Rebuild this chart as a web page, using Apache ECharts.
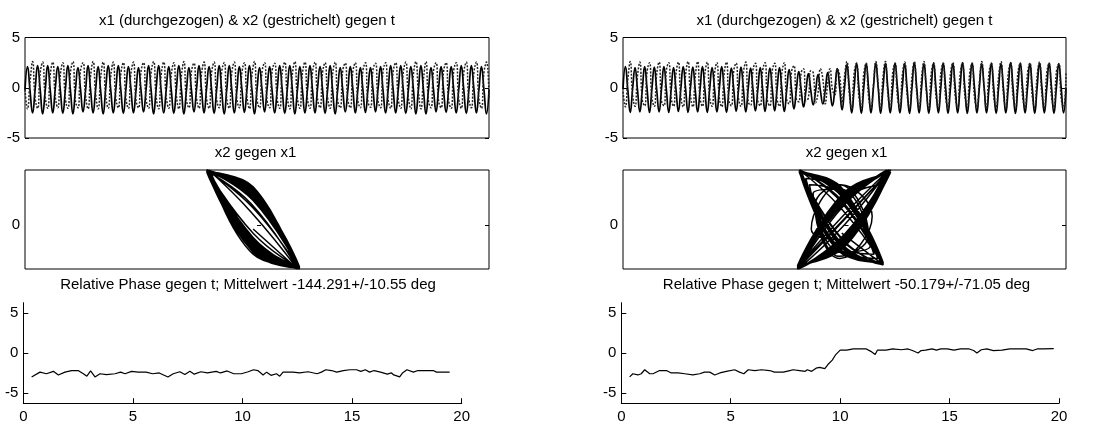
<!DOCTYPE html>
<html><head><meta charset="utf-8">
<script src="https://cdn.jsdelivr.net/npm/echarts@6/dist/echarts.min.js"></script>
<style>html,body{margin:0;padding:0;background:#fff}#c{width:1106px;height:430px}</style>
</head><body><div id="c"></div>
<script>
// ---------- text ----------
const titleTop = 'x1 (durchgezogen) & x2 (gestrichelt) gegen t';
const titlePortrait = 'x2 gegen x1';
const titlePhaseLeft = 'Relative Phase gegen t; Mittelwert -144.291+/-10.55 deg';
const titlePhaseRight = 'Relative Phase gegen t; Mittelwert -50.179+/-71.05 deg';
const yTicksTop = [-5, 0, 5];
const yTicksPortrait = [0];
const yTicksPhase = [-5, 0, 5];
const xTicksPhase = [0, 5, 10, 15, 20];
const timeSpan = [0, 20];

// ---------- left column: x1, x2 sampled every quarter cycle ----------
const x1Left = [
 -0.2,2.1,-0.3,-2.5, -0.2,2.2,-0.1,-2.6, -0.3,2.2,-0.2,-2.5, -0.1,2.1,-0.2,-2.55, -0.2,2.2,-0.2,-2.6,
 -0.2,2.0,-0.1,-2.4, -0.3,2.2,-0.2,-2.5, -0.2,2.1,-0.3,-2.6, -0.1,2.2,-0.2,-2.5, -0.2,2.2,-0.2,-2.55,
 -0.2,2.1,-0.1,-2.5, -0.3,2.0,-0.2,-2.4, -0.2,2.2,-0.2,-2.6, -0.1,2.2,-0.3,-2.5, -0.2,2.1,-0.2,-2.55,
 -0.2,2.2,-0.1,-2.6, -0.3,2.0,-0.2,-2.4, -0.2,2.2,-0.2,-2.5, -0.1,2.1,-0.2,-2.55, -0.2,2.2,-0.3,-2.6,
 -0.2,2.2,-0.2,-2.5, -0.3,2.1,-0.1,-2.45, -0.2,2.2,-0.2,-2.6, -0.2,2.0,-0.2,-2.4, -0.1,2.1,-0.3,-2.5,
 -0.2,2.2,-0.2,-2.55, -0.2,2.2,-0.1,-2.6, -0.3,2.1,-0.2,-2.5, -0.2,2.2,-0.2,-2.5, -0.1,2.1,-0.2,-2.55,
 -0.2,2.2,-0.3,-2.6, -0.2,2.0,-0.2,-2.4, -0.3,2.1,-0.1,-2.5, -0.2,2.0,-0.2,-2.45, -0.2,2.0,-0.2,-2.4,
 -0.1,2.1,-0.3,-2.5, -0.2,2.2,-0.2,-2.5, -0.2,2.2,-0.2,-2.55, -0.3,2.1,-0.1,-2.6, -0.2,2.2,-0.2,-2.6,
 -0.2,2.0,-0.2,-2.4, -0.1,2.1,-0.3,-2.45, -0.2,2.1,-0.2,-2.5, -0.2,2.2,-0.2,-2.55, -0.3,2.2,-0.1,-2.5,
 -0.2,2.1,-0.2,-2.6, -0.2
];
const x2Left = [
 -0.2,-2.1,0.6,2.6, -1.0,-2.05,1.4,2.55, -0.9,-2.05,1.3,2.55, -0.9,-2.0,1.3,2.5, -1.1,-2.05,1.5,2.6,
 -1.3,-2.0,1.7,2.5, -0.75,-2.1,1.15,2.6, -0.6,-2.1,1.0,2.55, -0.75,-2.05,1.15,2.55, -1.0,-2.0,1.4,2.5,
 -1.0,-2.05,1.4,2.55, -1.2,-2.0,1.6,2.5, -1.1,-2.05,1.5,2.6, -0.9,-2.1,1.3,2.55, -0.9,-2.05,1.3,2.5,
 -0.75,-2.1,1.15,2.6, -1.2,-2.0,1.6,2.45, -1.0,-2.05,1.4,2.55, -1.1,-2.05,1.5,2.55, -1.2,-2.0,1.6,2.5,
 -1.1,-2.05,1.5,2.55, -1.1,-2.0,1.5,2.5, -0.9,-2.1,1.3,2.6, -1.2,-2.0,1.6,2.5, -1.3,-2.0,1.7,2.45,
 -1.1,-2.05,1.5,2.55, -0.9,-2.1,1.3,2.6, -1.0,-2.05,1.4,2.55, -1.1,-2.05,1.5,2.55, -1.1,-2.0,1.5,2.5,
 -1.0,-2.05,1.4,2.55, -1.3,-2.0,1.7,2.45, -1.2,-2.0,1.6,2.5, -1.3,-2.0,1.7,2.5, -1.4,-1.95,1.8,2.45,
 -1.3,-2.0,1.7,2.5, -1.2,-2.05,1.6,2.5, -1.1,-2.05,1.5,2.55, -0.9,-2.1,1.3,2.6, -0.4,-2.1,0.8,2.6,
 -1.3,-2.0,1.7,2.5, -1.3,-2.0,1.65,2.5, -1.3,-2.05,1.7,2.5, -1.1,-2.05,1.5,2.55, -1.1,-2.0,1.5,2.55,
 -1.1,-2.05,1.5,2.55, -1.1
];

// ---------- right column ----------
const x1Right = [
 -0.15,2.1,-0.2,-2.45, -0.1,2.0,-0.15,-2.4, -0.2,2.1,-0.1,-2.45, -0.15,2.05,-0.2,-2.4, -0.1,2.1,-0.15,-2.45,
 -0.2,2.0,-0.15,-2.35, -0.15,2.1,-0.1,-2.45, -0.1,2.05,-0.2,-2.4, -0.2,2.1,-0.15,-2.45, -0.15,2.0,-0.1,-2.4,
 -0.1,2.1,-0.2,-2.45, -0.2,1.95,-0.15,-2.35, -0.15,2.05,-0.1,-2.4, -0.1,1.95,-0.2,-2.3, -0.2,2.0,-0.15,-2.35,
 -0.15,1.95,-0.1,-2.3, -0.1,2.0,-0.2,-2.35, -0.2,1.8,-0.15,-2.1, -0.2,1.6,-0.2,-1.9, -0.25,1.4,-0.25,-1.7,
 -0.3,1.3,-0.3,-1.6, -0.25,1.5,-0.2,-1.8, -0.1,1.9,-0.05,-2.2, 0.0,2.3,0.0,-2.5, -0.05,2.45,-0.05,-2.55,
 0.0,2.4,0.0,-2.5, -0.05,2.45,0.0,-2.55, 0.0,2.4,-0.05,-2.5, -0.05,2.45,0.0,-2.5, 0.0,2.4,-0.05,-2.55,
 -0.05,2.5,0.0,-2.5, 0.0,2.4,0.0,-2.55, -0.05,2.45,-0.05,-2.5, 0.0,2.45,0.0,-2.55, -0.05,2.4,0.0,-2.5,
 0.0,2.5,-0.05,-2.55, -0.05,2.45,0.0,-2.5, 0.0,2.4,0.0,-2.5, -0.05,2.45,-0.05,-2.55, 0.0,2.4,0.0,-2.5,
 -0.05,2.5,0.0,-2.55, 0.0,2.45,-0.05,-2.5, -0.05,2.4,0.0,-2.55, 0.0,2.45,0.0,-2.5, -0.05,2.45,-0.05,-2.55,
 0.0,2.4,0.0,-2.5, 0.0
];
const x2Right = [
 -0.4,-1.9,0.8,2.6, -0.75,-1.85,1.15,2.55, -1.2,-1.8,1.6,2.5, -1.0,-1.85,1.4,2.55, -1.3,-1.8,1.7,2.5,
 -1.0,-1.85,1.4,2.55, -0.9,-1.9,1.3,2.6, -0.7,-1.9,1.1,2.6, -1.0,-1.85,1.4,2.55, -1.0,-1.85,1.4,2.5,
 -1.0,-1.9,1.4,2.55, -1.3,-1.8,1.7,2.45, -1.1,-1.85,1.5,2.55, -1.4,-1.75,1.8,2.45, -1.3,-1.8,1.7,2.5,
 -1.3,-1.8,1.7,2.45, -1.1,-1.85,1.5,2.5, -1.2,-1.6,1.6,2.2, -1.1,-1.4,1.5,1.9, -1.3,-1.0,1.7,1.5,
 -1.5,-0.5,1.9,0.9, -1.6,0.4,1.9,-0.2, -0.7,1.9,1.2,-1.5, 1.1,2.6,-0.6,-2.1, 1.45,2.45,-0.95,-1.95,
 1.4,2.45,-0.9,-1.95, 0.25,2.6,0.25,-2.1, 1.1,2.6,-0.6,-2.1, 1.45,2.45,-0.95,-1.95, 1.2,2.55,-0.7,-2.05,
 1.0,2.6,-0.5,-2.1, 0.95,2.6,-0.45,-2.1, 1.35,2.5,-0.85,-2.0, 1.45,2.45,-0.95,-1.95, 1.35,2.5,-0.85,-2.0,
 1.3,2.5,-0.8,-2.0, 1.45,2.45,-0.95,-1.95, 0.5,2.6,0.0,-2.1, 1.45,2.45,-0.95,-1.95, 1.1,2.6,-0.6,-2.1,
 1.35,2.5,-0.85,-2.0, 1.45,2.45,-0.95,-1.95, 1.4,2.45,-0.9,-1.95, 1.2,2.55,-0.7,-2.05, 1.45,2.45,-0.95,-1.95,
 1.55,2.4,-1.05,-1.9, 1.55
];

// ---------- relative phase (rad) ----------
const phaseTLeft = [0.38,0.76,1.06,1.37,1.6,1.9,2.2,2.5,2.74,2.9,3.07,3.27,3.5,3.8,4.18,4.44,4.64,4.94,5.24,5.6,5.9,6.2,6.6,6.84,7.14,7.37,7.6,7.8,8.1,8.4,8.8,9.0,9.3,9.6,9.95,10.26,10.5,10.7,10.94,11.1,11.3,11.55,11.7,11.85,12.3,12.6,13.0,13.4,13.6,13.8,14.06,14.3,14.6,14.9,15.2,15.4,15.6,15.8,16.0,16.3,16.6,16.8,16.9,17.17,17.3,17.5,17.8,18.0,18.4,18.7,18.85,19.45];
const phaseLeft  = [-3.0,-2.4,-2.6,-2.3,-2.75,-2.4,-2.2,-2.2,-2.6,-2.9,-2.25,-3.0,-2.6,-2.7,-2.6,-2.4,-2.6,-2.3,-2.4,-2.4,-2.6,-2.5,-3.0,-2.6,-2.35,-2.7,-2.3,-2.65,-2.35,-2.5,-2.3,-2.5,-2.25,-2.6,-2.6,-2.35,-2.1,-2.2,-2.75,-2.4,-2.8,-2.6,-2.9,-2.4,-2.4,-2.5,-2.35,-2.6,-2.4,-2.1,-2.2,-2.4,-2.2,-2.1,-2.1,-2.3,-2.1,-2.4,-2.2,-2.4,-2.65,-2.5,-2.75,-3.0,-2.5,-2.1,-2.4,-2.2,-2.2,-2.2,-2.4,-2.4];
const phaseTRight = [0.38,0.53,0.76,0.91,1.07,1.3,1.45,1.75,2.06,2.28,2.6,2.9,3.27,3.58,3.8,4.04,4.27,4.5,4.8,5.18,5.4,5.6,5.8,6.1,6.4,6.78,7.0,7.4,7.7,7.85,8.15,8.4,8.5,8.7,8.9,9.06,9.3,9.44,9.64,9.8,10.0,10.3,10.6,11.2,11.4,11.6,11.7,12.1,12.4,12.8,13.1,13.3,13.56,13.7,13.9,14.2,14.4,14.6,14.9,15.2,15.5,15.9,16.1,16.25,16.45,16.7,17.0,17.4,17.75,18.1,18.5,18.8,19.0,19.3,19.76];
const phaseRight  = [-3.0,-2.6,-2.75,-2.6,-2.1,-2.6,-2.6,-2.2,-2.2,-2.5,-2.5,-2.6,-2.75,-2.6,-2.4,-2.4,-2.75,-2.5,-2.3,-2.1,-2.4,-2.6,-2.1,-2.2,-2.1,-2.2,-2.4,-2.4,-2.2,-2.1,-2.2,-2.3,-2.1,-2.3,-1.9,-1.8,-1.95,-1.45,-0.9,-0.2,0.35,0.35,0.5,0.5,0.2,-0.2,0.35,0.35,0.5,0.4,0.5,0.3,0.0,0.3,0.35,0.5,0.35,0.5,0.5,0.35,0.5,0.5,0.3,0.0,0.4,0.5,0.3,0.35,0.5,0.5,0.5,0.3,0.5,0.5,0.55];

// ---------- build ----------
const FONT = '"Liberation Sans", Arial, Helvetica, sans-serif';
const black = '#000';
function timeOf(arr) {
  const n = arr.length - 1;
  return arr.map((v, i) => [timeSpan[0] + (timeSpan[1] - timeSpan[0]) * i / n, v]);
}
function pairs(a, b) { return a.map((v, i) => [v, b[i]]); }
function zip(t, v) { return t.map((x, i) => [x, v[i]]); }

const cols = [
  {boxL: 25, boxW: 464, phL: 23.3, phW: 438.4, tTop: 247, tPor: 255.5, tPh: 248,
   x1: x1Left, x2: x2Left, pt: phaseTLeft, pv: phaseLeft, phTitle: titlePhaseLeft},
  {boxL: 623, boxW: 443, phL: 621.3, phW: 437.7, tTop: 844.5, tPor: 846.5, tPh: 846.5,
   x1: x1Right, x2: x2Right, pt: phaseTRight, pv: phaseRight, phTitle: titlePhaseRight}
];
const grid = [], xAxis = [], yAxis = [], series = [], graphic = [];
const tickStyle = {show: true, inside: true, length: 4, lineStyle: {color: black, width: 1}};
const labelStyle = {color: black, fontSize: 15, fontFamily: FONT, margin: 5};

cols.forEach(c => {
  // panel 1: time series
  let g = grid.length;
  grid.push({left: c.boxL, top: 37.5, width: c.boxW, height: 100.5, show: true, borderColor: black, borderWidth: 1, backgroundColor: '#fff'});
  xAxis.push({gridIndex: g, type: 'value', min: timeSpan[0], max: timeSpan[1], show: false});
  let y0 = yAxis.length;
  yAxis.push({gridIndex: g, type: 'value', min: yTicksTop[0], max: yTicksTop[2], interval: 5,
    axisLine: {show: false}, axisTick: tickStyle, splitLine: {show: false}, axisLabel: labelStyle});
  yAxis.push({gridIndex: g, type: 'value', position: 'right', min: yTicksTop[0], max: yTicksTop[2], interval: 5,
    axisLine: {show: false}, axisTick: tickStyle, splitLine: {show: false}, axisLabel: {show: false}});
  series.push({type: 'line', xAxisIndex: g, yAxisIndex: y0, data: timeOf(c.x1), smooth: 0.5, symbol: 'none',
    lineStyle: {color: black, width: 1.7}, silent: true});
  series.push({type: 'line', xAxisIndex: g, yAxisIndex: y0, data: timeOf(c.x2), smooth: 0.5, symbol: 'none',
    lineStyle: {color: '#222', width: 1.5, type: [2, 1.5]}, silent: true});

  // panel 2: portrait
  g = grid.length;
  grid.push({left: c.boxL, top: 170, width: c.boxW, height: 99, show: true, borderColor: black, borderWidth: 1, backgroundColor: '#fff'});
  xAxis.push({gridIndex: g, type: 'value', min: -12, max: 12, show: false});
  y0 = yAxis.length;
  yAxis.push({gridIndex: g, type: 'value', min: -2.1, max: 2.6,
    axisLine: {show: false}, axisTick: Object.assign({customValues: yTicksPortrait}, tickStyle),
    splitLine: {show: false}, axisLabel: Object.assign({customValues: yTicksPortrait}, labelStyle)});
  yAxis.push({gridIndex: g, type: 'value', position: 'right', min: -2.1, max: 2.6,
    axisLine: {show: false}, axisTick: Object.assign({customValues: yTicksPortrait}, tickStyle),
    splitLine: {show: false}, axisLabel: {show: false}});
  series.push({type: 'line', xAxisIndex: g, yAxisIndex: y0, data: pairs(c.x1, c.x2), smooth: 0.45, symbol: 'none',
    lineStyle: {color: black, width: 1.5}, silent: true});

  // panel 3: relative phase
  g = grid.length;
  grid.push({left: c.phL, top: 302.7, width: c.phW, height: 100.5, show: false});
  xAxis.push({gridIndex: g, type: 'value', min: xTicksPhase[0], max: xTicksPhase[4], interval: 5,
    axisLine: {show: true, onZero: false, lineStyle: {color: black, width: 1}},
    axisTick: Object.assign({}, tickStyle, {length: 5}), splitLine: {show: false},
    axisLabel: Object.assign({}, labelStyle, {margin: 6, showMinLabel: true, showMaxLabel: true})});
  y0 = yAxis.length;
  yAxis.push({gridIndex: g, type: 'value', min: -2 * Math.PI, max: 2 * Math.PI,
    axisLine: {show: true, onZero: false, lineStyle: {color: black, width: 1}},
    axisTick: Object.assign({customValues: yTicksPhase}, tickStyle, {length: 5}),
    splitLine: {show: false}, axisLabel: Object.assign({customValues: yTicksPhase}, labelStyle)});
  series.push({type: 'line', xAxisIndex: g, yAxisIndex: y0, data: zip(c.pt, c.pv), symbol: 'none',
    lineStyle: {color: black, width: 1.2}, silent: true});

  // titles
  const ts = (txt, x, y) => ({type: 'text', silent: true, style: {text: txt, x: x, y: y, textAlign: 'center',
    textVerticalAlign: 'middle', fontSize: 15, fontFamily: FONT, fill: black}});
  graphic.push(ts(titleTop, c.tTop, 21));
  graphic.push(ts(titlePortrait, c.tPor, 153));
  graphic.push(ts(c.phTitle, c.tPh, 285));
});

const chart = echarts.init(document.getElementById('c'), null, {renderer: 'canvas'});
chart.setOption({animation: false, backgroundColor: '#fff', grid, xAxis, yAxis, series, graphic});
</script></body></html>
